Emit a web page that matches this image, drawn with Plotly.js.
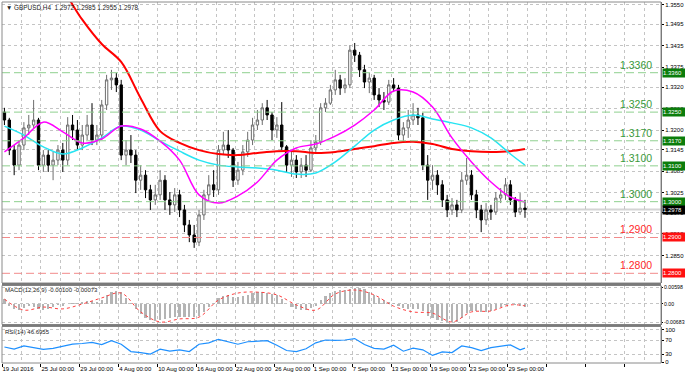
<!DOCTYPE html>
<html><head><meta charset="utf-8">
<script src="https://cdn.plot.ly/plotly-3.0.1.min.js"></script>
<style>html,body{margin:0;padding:0;background:#fff;}#chart{width:685px;height:377px;}</style>
</head><body><div id="chart"></div>
<script>
// ---- data (half-day candles, 19 Jul 2016 - 30 Sep 2016) ----
const openP = [1.3250,1.3228,1.3144,1.3102,1.3158,1.3206,1.3214,1.3228,1.3102,1.3130,
 1.3102,1.3116,1.3144,1.3116,1.3214,1.3200,1.3158,1.3186,1.3214,1.3172,
 1.3186,1.3270,1.3340,1.3345,1.3326,1.3130,1.3144,1.3130,1.3060,1.3074,
 1.3033,1.3005,1.3019,1.3060,1.3005,1.2991,1.3019,1.2977,1.2935,1.2907,
 1.2887,1.2963,1.3019,1.3047,1.3033,1.3144,1.3158,1.3144,1.3060,1.3088,
 1.3139,1.3172,1.3214,1.3228,1.3262,1.3242,1.3200,1.3214,1.3153,1.3102,
 1.3116,1.3083,1.3102,1.3088,1.3150,1.3167,1.3262,1.3275,1.3312,1.3340,
 1.3317,1.3326,1.3423,1.3409,1.3368,1.3334,1.3345,1.3298,1.3284,1.3278,
 1.3326,1.3317,1.3186,1.3206,1.3228,1.3242,1.3234,1.3102,1.3060,1.3074,
 1.3047,1.3005,1.2977,1.2991,1.2977,1.3060,1.3074,1.3019,1.2977,1.2949,
 1.2977,1.2971,1.3010,1.3019,1.3047,1.3005,1.2971,1.2982];
const highP = [1.3262,1.3234,1.3158,1.3172,1.3222,1.3242,1.3284,1.3234,1.3144,1.3144,
 1.3139,1.3158,1.3164,1.3236,1.3242,1.3228,1.3214,1.3242,1.3275,1.3214,
 1.3284,1.3354,1.3368,1.3359,1.3340,1.3172,1.3186,1.3144,1.3102,1.3088,
 1.3047,1.3047,1.3088,1.3074,1.3027,1.3038,1.3033,1.2991,1.2949,1.2935,
 1.2977,1.3033,1.3074,1.3088,1.3158,1.3195,1.3200,1.3150,1.3111,1.3158,
 1.3195,1.3234,1.3256,1.3275,1.3284,1.3250,1.3236,1.3278,1.3158,1.3144,
 1.3130,1.3122,1.3130,1.3172,1.3186,1.3275,1.3289,1.3326,1.3368,1.3354,
 1.3345,1.3437,1.3443,1.3418,1.3382,1.3359,1.3354,1.3317,1.3306,1.3340,
 1.3345,1.3326,1.3222,1.3256,1.3275,1.3262,1.3248,1.3130,1.3102,1.3088,
 1.3060,1.3019,1.3010,1.3005,1.3083,1.3122,1.3088,1.3033,1.2991,1.2996,
 1.2991,1.3027,1.3038,1.3066,1.3060,1.3013,1.3024,1.3005];
const lowP = [1.3214,1.3130,1.3074,1.3088,1.3144,1.3186,1.3206,1.3088,1.3083,1.3083,
 1.3060,1.3102,1.3083,1.3102,1.3172,1.3144,1.3144,1.3172,1.3158,1.3158,
 1.3172,1.3256,1.3312,1.3306,1.3116,1.3102,1.3108,1.3024,1.3033,1.3010,
 1.2977,1.2991,1.3005,1.2977,1.2963,1.2971,1.2957,1.2915,1.2887,1.2871,
 1.2876,1.2949,1.3005,1.3013,1.3019,1.3130,1.3122,1.3041,1.3047,1.3074,
 1.3125,1.3158,1.3200,1.3214,1.3228,1.3172,1.3178,1.3144,1.3083,1.3069,
 1.3066,1.3066,1.3069,1.3083,1.3139,1.3158,1.3250,1.3270,1.3298,1.3298,
 1.3303,1.3317,1.3390,1.3348,1.3317,1.3303,1.3284,1.3264,1.3256,1.3270,
 1.3306,1.3172,1.3167,1.3178,1.3214,1.3214,1.3088,1.3005,1.3033,1.3019,
 1.2985,1.2957,1.2963,1.2957,1.2968,1.3047,1.3005,1.2954,1.2915,1.2935,
 1.2949,1.2963,1.2996,1.3005,1.2991,1.2957,1.2963,1.2955];
const closeP = [1.3228,1.3144,1.3102,1.3158,1.3206,1.3214,1.3228,1.3102,1.3130,1.3102,
 1.3116,1.3144,1.3116,1.3214,1.3200,1.3158,1.3186,1.3214,1.3172,1.3186,
 1.3270,1.3340,1.3345,1.3326,1.3130,1.3144,1.3130,1.3060,1.3074,1.3033,
 1.3005,1.3019,1.3060,1.3005,1.2991,1.3019,1.2977,1.2935,1.2907,1.2887,
 1.2963,1.3019,1.3047,1.3033,1.3144,1.3158,1.3144,1.3060,1.3088,1.3139,
 1.3172,1.3214,1.3228,1.3262,1.3242,1.3200,1.3214,1.3153,1.3102,1.3116,
 1.3083,1.3102,1.3088,1.3150,1.3167,1.3262,1.3275,1.3312,1.3340,1.3317,
 1.3326,1.3423,1.3409,1.3368,1.3334,1.3345,1.3298,1.3284,1.3278,1.3326,
 1.3317,1.3186,1.3206,1.3228,1.3242,1.3234,1.3102,1.3060,1.3074,1.3047,
 1.3005,1.2977,1.2991,1.2977,1.3060,1.3074,1.3019,1.2977,1.2949,1.2977,
 1.2971,1.3010,1.3019,1.3047,1.3005,1.2971,1.2982,1.2978];

const maIdx = [0,4,8,12,16,20,24,28,32,36,40,44,48,52,56,60,64,68,72,76,80,84,88,92,96,100,104,107];
const maRed = [1.3790,1.3725,1.3660,1.3592,1.3508,1.3440,1.3390,1.3289,1.3197,1.3164,1.3144,1.3133,1.3130,1.3136,1.3141,1.3141,1.3136,1.3139,1.3147,1.3155,1.3164,1.3167,1.3161,1.3147,1.3141,1.3139,1.3141,1.3147];
const maCyan = [1.3211,1.3186,1.3153,1.3133,1.3150,1.3178,1.3211,1.3200,1.3169,1.3141,1.3116,1.3102,1.3097,1.3094,1.3088,1.3077,1.3080,1.3111,1.3155,1.3200,1.3228,1.3242,1.3231,1.3220,1.3206,1.3178,1.3133,1.3102];
const maMagenta = [1.3139,1.3178,1.3222,1.3195,1.3164,1.3175,1.3211,1.3203,1.3169,1.3116,1.3019,1.2996,1.3016,1.3055,1.3116,1.3150,1.3161,1.3183,1.3214,1.3256,1.3309,1.3306,1.3264,1.3178,1.3111,1.3055,1.3013,1.2999];

const macdHist = [0.0015,-0.0008,-0.0017,-0.0021,-0.0014,-0.0008,-0.0011,-0.0017,-0.0021,-0.0017,
 -0.0011,-0.0004,-0.0008,-0.0001,0.0002,0.0002,0.0006,0.0009,0.0009,0.0006,
 0.0012,0.0029,0.0038,0.0042,0.0038,0.0019,0.0002,-0.0017,-0.0034,-0.0047,
 -0.0054,-0.0057,-0.0054,-0.0050,-0.0047,-0.0044,-0.0044,-0.0044,-0.0044,-0.0044,
 -0.0040,-0.0027,-0.0011,0.0002,0.0019,0.0025,0.0029,0.0022,0.0022,0.0025,
 0.0029,0.0035,0.0038,0.0038,0.0035,0.0032,0.0029,0.0015,-0.0001,-0.0011,
 -0.0017,-0.0021,-0.0021,-0.0014,-0.0008,0.0012,0.0025,0.0035,0.0042,0.0045,
 0.0045,0.0048,0.0052,0.0052,0.0048,0.0038,0.0029,0.0019,0.0012,0.0006,
 0.0002,-0.0008,-0.0014,-0.0017,-0.0017,-0.0017,-0.0024,-0.0040,-0.0047,-0.0054,
 -0.0057,-0.0060,-0.0060,-0.0060,-0.0047,-0.0031,-0.0024,-0.0024,-0.0027,-0.0027,
 -0.0024,-0.0017,-0.0011,-0.0004,-0.0001,-0.0004,-0.0008,-0.0010];
const macdSignal = [0.0015,-0.0021,-0.0011,-0.0017,-0.0001,0.0019,0.0035,-0.0027,-0.0060,-0.0050,-0.0044,0.0012,0.0035,0.0038,0.0029,-0.0004,-0.0021,0.0032,0.0045,0.0029,-0.0008,-0.0027,-0.0031,-0.0060,-0.0027,-0.0024,-0.0004,-0.0007];

const rsiIdx = [0,2,4,6,8,10,12,14,16,18,20,22,24,26,28,30,32,34,36,38,40,42,44,46,48,50,52,54,56,58,60,62,64,66,68,70,72,74,76,78,80,82,84,86,88,90,92,94,96,98,100,102,104,106,107];
const rsiVals = [50,44,53,48,43,46,52,58,60,63,57,68,58,37,34,30,44,38,42,37,58,62,72,64,58,65,67,68,55,40,37,45,62,70,69,70,74,57,46,44,55,38,47,42,26,36,34,53,48,40,48,53,56,42,46.6955];

const timeTickIdx = [-0.5,7.5,15.5,23.5,31.5,39.5,47.5,55.5,63.5,71.5,79.5,87.5,95.5,103.5,111.5,119.5,127.5];
const timeTickText = ['19 Jul 2016','25 Jul 00:00','29 Jul 00:00','4 Aug 00:00','10 Aug 00:00','16 Aug 00:00','22 Aug 00:00','26 Aug 00:00','1 Sep 00:00','7 Sep 00:00','13 Sep 00:00','19 Sep 00:00','23 Sep 00:00','29 Sep 00:00','','',''];
const minorGridIdx = [3.5,11.5,19.5,27.5,35.5,43.5,51.5,59.5,67.5,75.5,83.5,91.5,99.5,107.5,115.5,123.5,131.5];
const priceTicks = [1.3550,1.3495,1.3435,1.3375,1.3320,1.3260,1.3200,1.3145,1.3085,1.3025,1.2970,1.2910,1.2850];
const levelsGreen = [1.3360,1.3250,1.3170,1.3100,1.3000];
const levelsRed = [1.2900,1.2800];
const lastPrice = 1.2978;
const chartTitle = '\u25BC GBPUSD,H4  1.2972 1.2985 1.2955 1.2978';
const macdTitle = 'MACD(12,26,9) -0.00100 -0.00073';
const rsiTitle = 'RSI(14) 46.6955';

// ---- geometry helpers ----
const W = 685, H = 377, ML = 2, MR = 24, MT = 2, MB = 14;
const PW = W - ML - MR, PH = H - MT - MB;
const px = x => (x - ML) / PW;            // pixel x -> paper
const py = y => (H - MB - y) / PH;        // pixel y -> paper
const idx = openP.map((_, i) => i);

const FONT = 'Liberation Sans, Arial, sans-serif';
const gridCol = '#c4c4c4';

const traces = [
  {type:'candlestick', x: idx, open: openP, high: highP, low: lowP, close: closeP,
   xaxis:'x', yaxis:'y', whiskerwidth:0,
   increasing:{line:{color:'#6e6e6e', width:1}, fillcolor:'#ffffff'},
   decreasing:{line:{color:'#000000', width:1}, fillcolor:'#000000'},
   hoverinfo:'skip'},
  {type:'scatter', mode:'lines', x: maIdx, y: maRed, xaxis:'x', yaxis:'y',
   line:{color:'#ff0000', width:2, shape:'spline'}, hoverinfo:'skip'},
  {type:'scatter', mode:'lines', x: maIdx, y: maCyan, xaxis:'x', yaxis:'y',
   line:{color:'#27e4f2', width:1.5, shape:'spline'}, hoverinfo:'skip'},
  {type:'scatter', mode:'lines', x: maIdx, y: maMagenta, xaxis:'x', yaxis:'y',
   line:{color:'#ff00ff', width:1.5, shape:'spline'}, hoverinfo:'skip'},
  {type:'bar', x: idx, y: macdHist, xaxis:'x', yaxis:'y2', width:0.45,
   marker:{color:'#b4b4b4', line:{width:0}}, hoverinfo:'skip'},
  {type:'scatter', mode:'lines', x: maIdx, y: macdSignal, xaxis:'x', yaxis:'y2',
   line:{color:'#ff4040', width:1, dash:'dot', shape:'spline'}, hoverinfo:'skip'},
  {type:'scatter', mode:'lines', x: rsiIdx, y: rsiVals, xaxis:'x', yaxis:'y3',
   line:{color:'#1e90ff', width:1.2}, hoverinfo:'skip'}
];

const shapes = [];
const annotations = [];

// current price line
shapes.push({type:'line', xref:'paper', yref:'y', x0:0, x1:1, y0:lastPrice, y1:lastPrice,
  line:{color:'#d4d4d4', width:2}, layer:'below'});
// level lines
levelsGreen.forEach(v => shapes.push({type:'line', xref:'paper', yref:'y', x0:0, x1:1, y0:v, y1:v,
  line:{color:'#8fd08f', width:1, dash:'8px,4px'}}));
levelsRed.forEach(v => shapes.push({type:'line', xref:'paper', yref:'y', x0:0, x1:1, y0:v, y1:v,
  line:{color:'#f28a8a', width:1, dash:'8px,4px'}}));

// panel frames & separators
const dMain = [py(283), 1], dMacd = [py(324.5), py(285.5)], dRsi = [0, py(326.5)];
shapes.push({type:'rect', xref:'paper', yref:'paper', x0:0, x1:1, y0:dMain[0], y1:dMain[1], line:{color:'#8a8a8a', width:1}});
shapes.push({type:'rect', xref:'paper', yref:'paper', x0:0, x1:1, y0:dMacd[0], y1:dMacd[1], line:{color:'#8a8a8a', width:1}});
shapes.push({type:'rect', xref:'paper', yref:'paper', x0:0, x1:1, y0:dRsi[0], y1:dRsi[1], line:{color:'#8a8a8a', width:1}});
shapes.push({type:'rect', xref:'paper', yref:'paper', x0:0, x1:1, y0:py(285.5), y1:py(283), fillcolor:'#7a7a7a', line:{width:0}});
shapes.push({type:'rect', xref:'paper', yref:'paper', x0:0, x1:1, y0:py(326.5), y1:py(324.5), fillcolor:'#7a7a7a', line:{width:0}});

// level text labels
levelsGreen.forEach(v => annotations.push({xref:'paper', yref:'y', x:px(654), y:v, xanchor:'right', yanchor:'bottom',
  yshift:0, text:v.toFixed(4), showarrow:false, font:{family:FONT, size:10.5, color:'#3a9a3a'}}));
levelsRed.forEach(v => annotations.push({xref:'paper', yref:'y', x:px(654), y:v, xanchor:'right', yanchor:'bottom',
  yshift:0, text:v.toFixed(4), showarrow:false, font:{family:FONT, size:10.5, color:'#ff2a2a'}}));
// right-side price boxes
const box = (v, col) => annotations.push({xref:'paper', yref:'y', x:px(661.5), y:v, xanchor:'left', yanchor:'middle',
  text:v.toFixed(4), showarrow:false, bgcolor:col, width:22, height:8, borderpad:0, align:'left',
  font:{family:FONT, size:6, color:'#ffffff'}});
levelsGreen.forEach(v => box(v, '#0b7d0b'));
levelsRed.forEach(v => box(v, '#ff1010'));
box(lastPrice, '#000000');

// panel titles
annotations.push({xref:'paper', yref:'paper', x:px(4), y:py(8), xanchor:'left', yanchor:'middle', showarrow:false,
  text:chartTitle, font:{family:FONT, size:6.4, color:'#222'}});
annotations.push({xref:'paper', yref:'paper', x:px(3), y:py(290), xanchor:'left', yanchor:'middle', showarrow:false,
  text:macdTitle, font:{family:FONT, size:6, color:'#222'}});
annotations.push({xref:'paper', yref:'paper', x:px(3), y:py(331.5), xanchor:'left', yanchor:'middle', showarrow:false,
  text:rsiTitle, font:{family:FONT, size:6, color:'#222'}});

const tickFont = {family:FONT, size:6, color:'#000'};
const layout = {
  width:W, height:H, margin:{l:ML, r:MR, t:MT, b:MB},
  paper_bgcolor:'#ffffff', plot_bgcolor:'#ffffff', showlegend:false, bargap:0,
  xaxis:{anchor:'y3', range:[-0.5, -0.5 + PW/4.865], tickmode:'array', tickvals:timeTickIdx, ticktext:timeTickText,
    tickangle:0, ticks:'outside', ticklen:3, tickcolor:'#000', tickfont:tickFont, ticklabelposition:'outside right',
    showgrid:true, gridcolor:gridCol, griddash:'dot', gridwidth:1,
    minor:{tickmode:'array', tickvals:minorGridIdx, showgrid:true, gridcolor:gridCol, griddash:'dot', ticks:''},
    zeroline:false, showline:false, rangeslider:{visible:false}, fixedrange:true},
  yaxis:{domain:dMain, anchor:'x', side:'right', range:[1.277295, 1.35574], tickmode:'array', tickvals:priceTicks,
    ticktext:priceTicks.map(v=>v.toFixed(4)), ticks:'outside', ticklen:2, tickcolor:'#000', tickfont:tickFont,
    showgrid:true, gridcolor:gridCol, griddash:'dot', zeroline:false, showline:true, linecolor:'#6a6a6a', fixedrange:true},
  yaxis2:{domain:dMacd, anchor:'x', side:'right', range:[-0.00683, 0.00598], tickmode:'array',
    tickvals:[0.0054, 0, -0.0062], ticktext:['0.00598','0.00','-0.00683'], ticks:'outside', ticklen:1, tickcolor:'#000',
    tickfont:{family:FONT, size:5.2, color:'#000'}, showgrid:true, gridcolor:gridCol, griddash:'dot', zeroline:false, showline:true, linecolor:'#6a6a6a', fixedrange:true},
  yaxis3:{domain:dRsi, anchor:'x', side:'right', range:[4.3, 108.6], tickmode:'array',
    tickvals:[100,70,30,7], ticktext:['100','70','30','0'], ticks:'outside', ticklen:2, tickcolor:'#000',
    tickfont:tickFont, showgrid:true, gridcolor:gridCol, griddash:'dot', zeroline:false, showline:true, linecolor:'#6a6a6a', fixedrange:true},
  shapes: shapes,
  annotations: annotations
};

Plotly.newPlot('chart', traces, layout, {staticPlot:true, displayModeBar:false});
</script>
</body></html>
